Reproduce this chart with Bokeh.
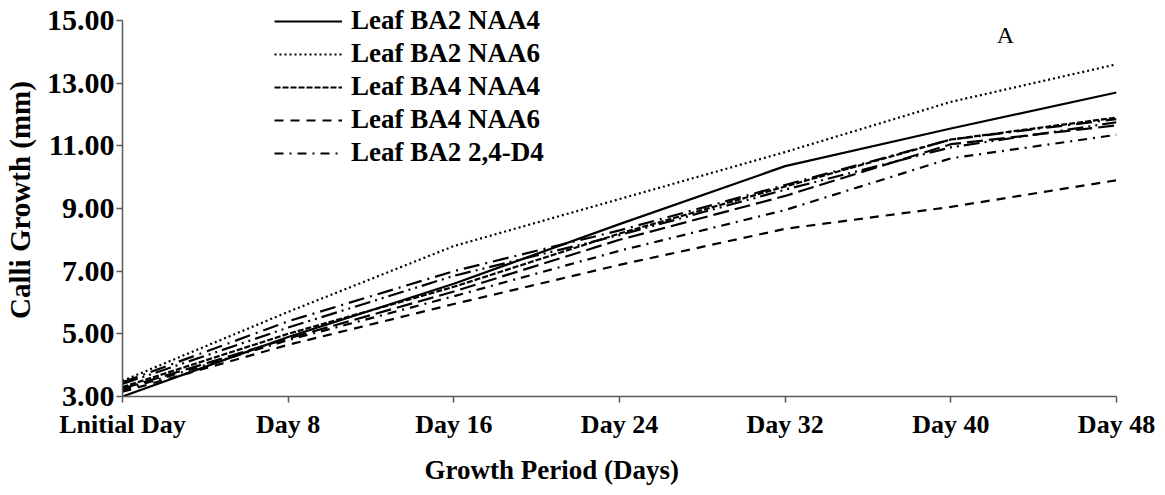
from bokeh.plotting import figure
from bokeh.models import Range1d, FixedTicker, Legend, LegendItem, Label, Title, NumeralTickFormatter
from bokeh.embed import file_html
from bokeh.resources import INLINE

categories = ["Lnitial Day", "Day 8", "Day 16", "Day 24", "Day 32", "Day 40", "Day 48"]

leaf_ba2_naa4 = [3.00, 4.90, 6.60, 8.50, 10.35, 11.55, 12.70]
leaf_ba2_naa6 = [3.50, 5.70, 7.80, 9.30, 10.80, 12.40, 13.60]
leaf_ba4_naa4 = [3.30, 5.00, 6.50, 8.20, 9.70, 11.20, 11.90]
leaf_ba4_naa6 = [3.15, 4.65, 5.95, 7.20, 8.35, 9.05, 9.90]
leaf_ba2_24d4 = [3.20, 4.80, 6.20, 7.65, 8.95, 10.60, 11.35]
extra_a = [3.25, 4.85, 6.35, 8.00, 9.40, 11.05, 11.65]
extra_b = [3.45, 5.40, 7.00, 8.30, 9.75, 11.20, 11.85]
extra_c = [3.40, 5.20, 6.85, 8.15, 9.60, 10.95, 11.75]

y_ticks = [3, 5, 7, 9, 11, 13, 15]

FONT = "Liberation Serif"
xs = list(range(len(categories)))

p = figure(width=1157, height=495, output_backend="svg", toolbar_location=None,
           x_range=Range1d(0, len(categories) - 1), y_range=Range1d(3, 15.54),
           min_border_left=120, min_border_right=41, min_border_top=3, min_border_bottom=99)
p.outline_line_color = None
p.grid.grid_line_color = None
p.background_fill_color = "white"

series = [
    ("Leaf BA2 NAA4", leaf_ba2_naa4, "solid", 2.2),
    ("Leaf BA2 NAA6", leaf_ba2_naa6, "2 3", 2.2),
    ("Leaf BA4 NAA4", leaf_ba4_naa4, "6 2", 2.2),
    ("Leaf BA4 NAA6", leaf_ba4_naa6, "9 7", 2.2),
    ("Leaf BA2 2,4-D4", leaf_ba2_24d4, "9 6 2 6", 2.2),
]
extras = [
    (extra_a, "16 6", 2.2),
    (extra_b, "16 6 2 6", 2.2),
    (extra_c, "16 5 2 5 2 5", 2.2),
]

items = []
for name, vals, dash, w in series:
    r = p.line(xs, vals, line_color="black", line_width=w, line_dash=dash)
    items.append(LegendItem(label=name, renderers=[r]))
for vals, dash, w in extras:
    p.line(xs, vals, line_color="black", line_width=w, line_dash=dash)

legend = Legend(items=items, location=(152, 228), padding=0, margin=0,
                spacing=2, glyph_width=68, glyph_height=26, label_height=26,
                label_standoff=9, label_text_font=FONT, label_text_font_style="bold",
                label_text_font_size="27px", label_text_color="black",
                border_line_alpha=0, background_fill_alpha=0)
p.add_layout(legend)

# axes
p.xaxis.ticker = FixedTicker(ticks=xs)
p.xaxis.major_label_overrides = {i: c for i, c in enumerate(categories)}
p.yaxis.ticker = FixedTicker(ticks=y_ticks)
p.yaxis.formatter = NumeralTickFormatter(format="0.00")
p.yaxis.bounds = (3, 15)
for ax in (p.xaxis[0], p.yaxis[0]):
    ax.axis_line_color = "#595959"
    ax.axis_line_width = 1.5
    ax.major_tick_line_color = "#595959"
    ax.major_tick_line_width = 1.5
    ax.major_tick_out = 6
    ax.major_tick_in = 0
    ax.minor_tick_line_color = None
    ax.major_label_text_font = FONT
    ax.major_label_text_font_style = "bold"
    ax.major_label_text_color = "black"
    ax.axis_label_text_font = FONT
    ax.axis_label_text_font_style = "bold"
    ax.axis_label_text_color = "black"
p.xaxis.major_label_text_font_size = "26px"
p.yaxis.major_label_text_font_size = "30px"
p.xaxis.major_label_standoff = 7
p.yaxis.major_label_standoff = 2
p.yaxis.axis_label = "Calli Growth (mm)"
p.yaxis.axis_label_text_font_size = "29px"
p.yaxis.axis_label_standoff = 8

xt = Title(text="Growth Period (Days)", align="left", offset=302, standoff=22,
           text_font=FONT, text_font_style="bold", text_font_size="27px", text_color="black")
p.add_layout(xt, "below")

p.add_layout(Label(x=5.33, y=14.52, text="A", text_align="center", text_baseline="middle",
                   text_font=FONT, text_font_size="24px", text_color="black"))

open("out.html", "w").write(file_html(p, INLINE))
